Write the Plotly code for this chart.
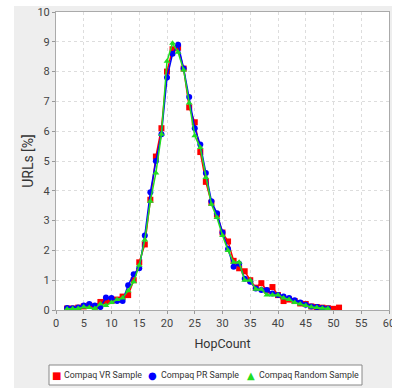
import plotly.graph_objects as go

hops_vr = list(range(2, 52))
vr = [0.05, 0.05, 0.08, 0.12, 0.15, 0.12, 0.27, 0.30, 0.30, 0.35,
      0.45, 0.50, 1.00, 1.60, 2.20, 3.70, 5.15, 6.10, 8.00, 8.75,
      8.80, 8.10, 6.80, 6.30, 5.30, 4.30, 3.60, 3.20, 2.60, 2.30,
      1.65, 1.40, 1.30, 1.00, 0.75, 0.90, 0.65, 0.77, 0.50, 0.30,
      0.35, 0.30, 0.22, 0.20, 0.12, 0.10, 0.08, 0.06, 0.04, 0.08]

hops_pr = list(range(2, 50))
pr = [0.07, 0.06, 0.08, 0.15, 0.20, 0.15, 0.10, 0.42, 0.40, 0.30,
      0.30, 0.83, 1.20, 1.40, 2.50, 3.95, 5.00, 5.90, 7.80, 8.60,
      8.90, 8.10, 7.15, 6.10, 5.55, 4.60, 3.65, 3.25, 2.60, 2.05,
      1.45, 1.55, 1.05, 0.95, 0.72, 0.67, 0.67, 0.55, 0.50, 0.45,
      0.40, 0.33, 0.25, 0.18, 0.12, 0.10, 0.07, 0.05]

hops_rnd = list(range(2, 50))
rnd = [0.03, 0.04, 0.05, 0.10, 0.08, 0.05, 0.20, 0.15, 0.25, 0.35,
       0.40, 0.65, 0.95, 1.50, 2.35, 3.65, 4.60, 5.90, 8.35, 8.95,
       8.65, 8.05, 6.95, 5.85, 5.45, 4.45, 3.55, 3.10, 2.50, 2.00,
       1.60, 1.60, 1.00, 1.00, 0.70, 0.70, 0.50, 0.50, 0.50, 0.40,
       0.35, 0.25, 0.20, 0.15, 0.10, 0.08, 0.06, 0.05]

names = ["Compaq VR Sample", "Compaq PR Sample", "Compaq Random Sample"]
colors = ["#ff0000", "#0000ff", "#22dd22"]
symbols = ["square", "circle", "triangle-up"]
glyphs = ["\u25A0", "\u25CF", "\u25B2"]
series = [(hops_vr, vr), (hops_pr, pr), (hops_rnd, rnd)]

W, H = 404, 388
ML, MR, MT, MB = 56, 15, 12, 78
PW, PH = W - ML - MR, H - MT - MB


def px(x):
    return (x - ML) / PW


def py(y):
    return (H - MB - y) / PH


font_fam = "Roboto, DejaVu Sans, sans-serif"

fig = go.Figure()
for (xs, ys), name, c, s in zip(series, names, colors, symbols):
    fig.add_trace(go.Scatter(x=xs, y=ys, mode="lines+markers", name=name,
                             line=dict(color=c, width=1.5),
                             marker=dict(color=c, symbol=s, size=6),
                             showlegend=False))

# legend drawn as box + glyph/text annotations
glyph_x = [56, 152, 251]
text_x = [62, 159, 257]
annotations = []
for name, c, g, gx, tx in zip(names, colors, glyphs, glyph_x, text_x):
    annotations.append(dict(
        xref="paper", yref="paper", x=px(gx), y=py(375),
        xanchor="center", yanchor="middle", showarrow=False,
        text=g, font=dict(family="DejaVu Sans", size=10, color=c)))
    annotations.append(dict(
        xref="paper", yref="paper", x=px(tx), y=py(375),
        xanchor="left", yanchor="middle", showarrow=False,
        text=name, font=dict(family=font_fam, size=8.8, color="#333")))

fig.update_layout(
    template="none",
    width=W, height=H,
    margin=dict(l=ML, r=MR, t=MT, b=MB),
    paper_bgcolor="#eeeeee", plot_bgcolor="white",
    font=dict(family=font_fam, size=11, color="#444"),
    showlegend=False,
    annotations=annotations,
    shapes=[
        dict(type="rect", xref="paper", yref="paper",
             x0=px(0), x1=px(14), y0=py(H), y1=py(0),
             fillcolor="white", line=dict(width=0)),
        dict(type="rect", xref="paper", yref="paper",
             x0=px(0), x1=px(W), y0=py(6), y1=py(0),
             fillcolor="white", line=dict(width=0)),
        dict(type="rect", xref="paper", yref="paper",
             x0=px(392), x1=px(W), y0=py(H), y1=py(0),
             fillcolor="white", line=dict(width=0)),
        dict(type="rect", xref="paper", yref="paper",
             x0=px(49), x1=px(362), y0=py(385), y1=py(365),
             fillcolor="white", line=dict(width=1, color="#888")),
    ],
)
fig.update_xaxes(range=[0, 60], dtick=5, tick0=0, automargin=False,
                 showgrid=True, gridcolor="#dddddd", griddash="dot", gridwidth=1,
                 showline=True, linecolor="#aaa", linewidth=1, mirror=True,
                 ticks="outside", ticklen=3, tickcolor="#999",
                 zeroline=False,
                 title=dict(text="HopCount", font=dict(size=12.5, color="#333"), standoff=10),
                 tickfont=dict(size=11, color="#444"))
fig.update_yaxes(range=[0, 10], dtick=1, tick0=0, automargin=False,
                 showgrid=True, gridcolor="#dddddd", griddash="dot", gridwidth=1,
                 showline=True, linecolor="#aaa", linewidth=1, mirror=True,
                 ticks="outside", ticklen=3, tickcolor="#999",
                 zeroline=False,
                 title=dict(text="URLs [%]", font=dict(size=14, color="#333"), standoff=0),
                 tickfont=dict(size=11, color="#444"))

fig.write_html("out.html",
               config={"displayModeBar": False},
               post_script="document.body.style.margin='0px';"
                           "document.body.style.padding='0px';")
